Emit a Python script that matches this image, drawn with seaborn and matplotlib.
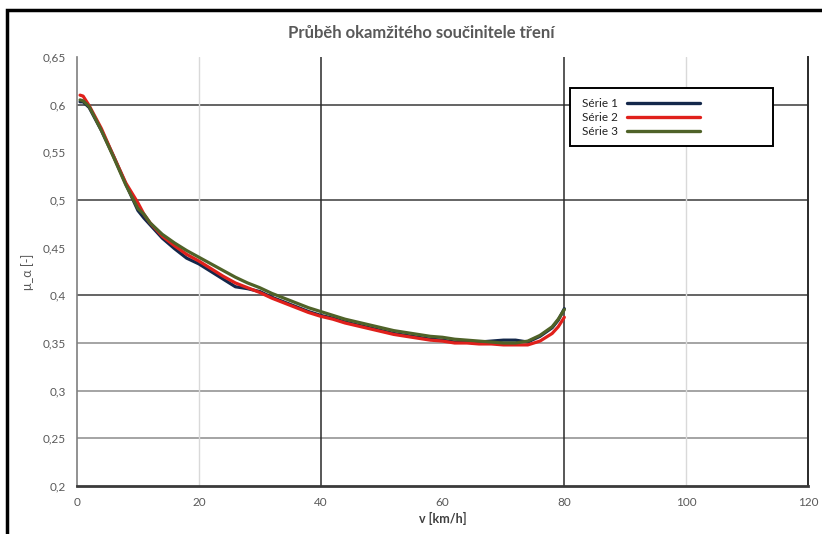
import matplotlib
matplotlib.use("Agg")
import matplotlib.pyplot as plt
import seaborn as sns
import pandas as pd
from matplotlib.patches import Rectangle

# ---- data ----
speed = [0.5, 1, 2, 4, 6, 8, 10, 11, 12, 14, 16, 18, 20, 22, 24, 26, 28, 30,
         32, 34, 36, 38, 40, 42, 44, 46, 48, 50, 52, 54, 56, 58, 60, 62, 64,
         66, 68, 70, 72, 74, 76, 78, 79, 80]

serie1 = [0.603, 0.603, 0.597, 0.573, 0.546, 0.517, 0.489, 0.481, 0.474, 0.460,
          0.449, 0.439, 0.433, 0.425, 0.417, 0.409, 0.407, 0.404, 0.398, 0.393,
          0.388, 0.383, 0.379, 0.376, 0.372, 0.369, 0.366, 0.363, 0.360, 0.358,
          0.356, 0.354, 0.353, 0.351, 0.351, 0.351, 0.352, 0.353, 0.353, 0.351,
          0.357, 0.366, 0.374, 0.386]

serie2 = [0.610, 0.609, 0.599, 0.575, 0.546, 0.518, 0.497, 0.485, 0.476, 0.462,
          0.452, 0.443, 0.436, 0.428, 0.420, 0.413, 0.408, 0.403, 0.397, 0.392,
          0.387, 0.382, 0.378, 0.375, 0.371, 0.368, 0.365, 0.362, 0.359, 0.357,
          0.355, 0.353, 0.352, 0.350, 0.350, 0.349, 0.349, 0.348, 0.348, 0.348,
          0.352, 0.360, 0.367, 0.377]

serie3 = [0.605, 0.604, 0.598, 0.573, 0.545, 0.516, 0.491, 0.485, 0.476, 0.464,
          0.455, 0.447, 0.440, 0.433, 0.426, 0.419, 0.413, 0.408, 0.402, 0.397,
          0.392, 0.387, 0.383, 0.379, 0.375, 0.372, 0.369, 0.366, 0.363, 0.361,
          0.359, 0.357, 0.356, 0.354, 0.353, 0.352, 0.351, 0.350, 0.350, 0.352,
          0.358, 0.367, 0.375, 0.385]

series_names = ["Série 1", "Série 2", "Série 3"]
series_colors = ["#14284b", "#e0201b", "#4f6228"]

x_ticks = [0, 20, 40, 60, 80, 100, 120]
y_ticks = [0.2, 0.25, 0.3, 0.35, 0.4, 0.45, 0.5, 0.55, 0.6, 0.65]

title = "Průběh okamžitého součinitele tření"
x_label = "v [km/h]"
y_label = "μ_α [-]"

# ---- build long-form table ----
frames = []
for name, vals in zip(series_names, [serie1, serie2, serie3]):
    frames.append(pd.DataFrame({"v": speed, "mu": vals, "serie": name}))
df = pd.concat(frames, ignore_index=True)

sns.set_style("white")
plt.rcParams["font.family"] = ["Lato", "DejaVu Sans"]

fig = plt.figure(figsize=(8.22, 5.34), dpi=100)
ax = fig.add_axes([77 / 822, 1 - 486 / 534, (808 - 77) / 822, (486 - 57) / 534])

# grid lines (as in reference: some dark, some grey)
for yv in [0.6, 0.5, 0.4]:
    ax.axhline(yv, color="#3a3a3a", lw=1.1, zorder=1)
for yv in [0.35, 0.3, 0.25]:
    ax.axhline(yv, color="#8c8c8c", lw=1.1, zorder=1)
for xv in [40, 80]:
    ax.axvline(xv, color="#2a2a2a", lw=1.1, zorder=1)
for xv in [20, 100]:
    ax.axvline(xv, color="#d9d9d9", lw=1.0, zorder=1)

sns.lineplot(data=df, x="v", y="mu", hue="serie", hue_order=series_names,
             palette=series_colors, linewidth=2.3, ax=ax, legend=False,
             sort=False, estimator=None, zorder=3)

ax.set_xlim(0, 120)
ax.set_ylim(0.2, 0.65)
ax.set_xticks(x_ticks)
ax.set_yticks(y_ticks)
ax.set_xticklabels([str(t) for t in x_ticks])
ax.set_yticklabels([("%g" % t).replace(".", ",") for t in y_ticks])
ax.tick_params(axis="both", length=0, labelsize=8.5, labelcolor="#595959")
ax.tick_params(axis="x", pad=8)
ax.tick_params(axis="y", pad=8)

ax.set_xlabel(x_label, fontsize=9, color="#404040", fontweight="bold", labelpad=3)
ax.set_ylabel(y_label, fontsize=9, color="#595959", labelpad=6)

ax.spines["top"].set_visible(False)
ax.spines["left"].set_color("#7f7f7f")
ax.spines["left"].set_linewidth(1.2)
ax.spines["bottom"].set_color("#3a3a3a")
ax.spines["bottom"].set_linewidth(2.0)
ax.spines["right"].set_color("#2a2a2a")
ax.spines["right"].set_linewidth(1.4)

# legend (box drawn separately to match the wide Excel legend)
leg_box = Rectangle(((570 - 77) / 731, (486 - 146) / 429), 203 / 731, 58 / 429,
                    transform=ax.transAxes, facecolor="white", edgecolor="black",
                    lw=1.4, zorder=5)
ax.add_patch(leg_box)
handles = [plt.Line2D([], [], color=c, lw=2.4) for c in series_colors]
leg = ax.legend(handles, series_names, loc="upper left",
                bbox_to_anchor=((574 - 77) / 731, (486 - 90) / 429),
                frameon=False, markerfirst=False, fontsize=8.5,
                handlelength=6.2, handletextpad=0.7, labelspacing=0.25,
                borderpad=0.2)
leg.set_zorder(6)
for t in leg.get_texts():
    t.set_color("#222222")

fig.text(421 / 822, 1 - 33 / 534, title, ha="center", va="center",
         fontsize=12, fontweight="bold", color="#595959")

# outer frame of the chart
frame = Rectangle((7 / 822, -0.1), 1.2, 1 - 10 / 534 + 0.1, transform=fig.transFigure,
                  fill=False, edgecolor="black", lw=2.5, clip_on=False)
fig.patches.append(frame)

fig.savefig("out.png", dpi=100)
